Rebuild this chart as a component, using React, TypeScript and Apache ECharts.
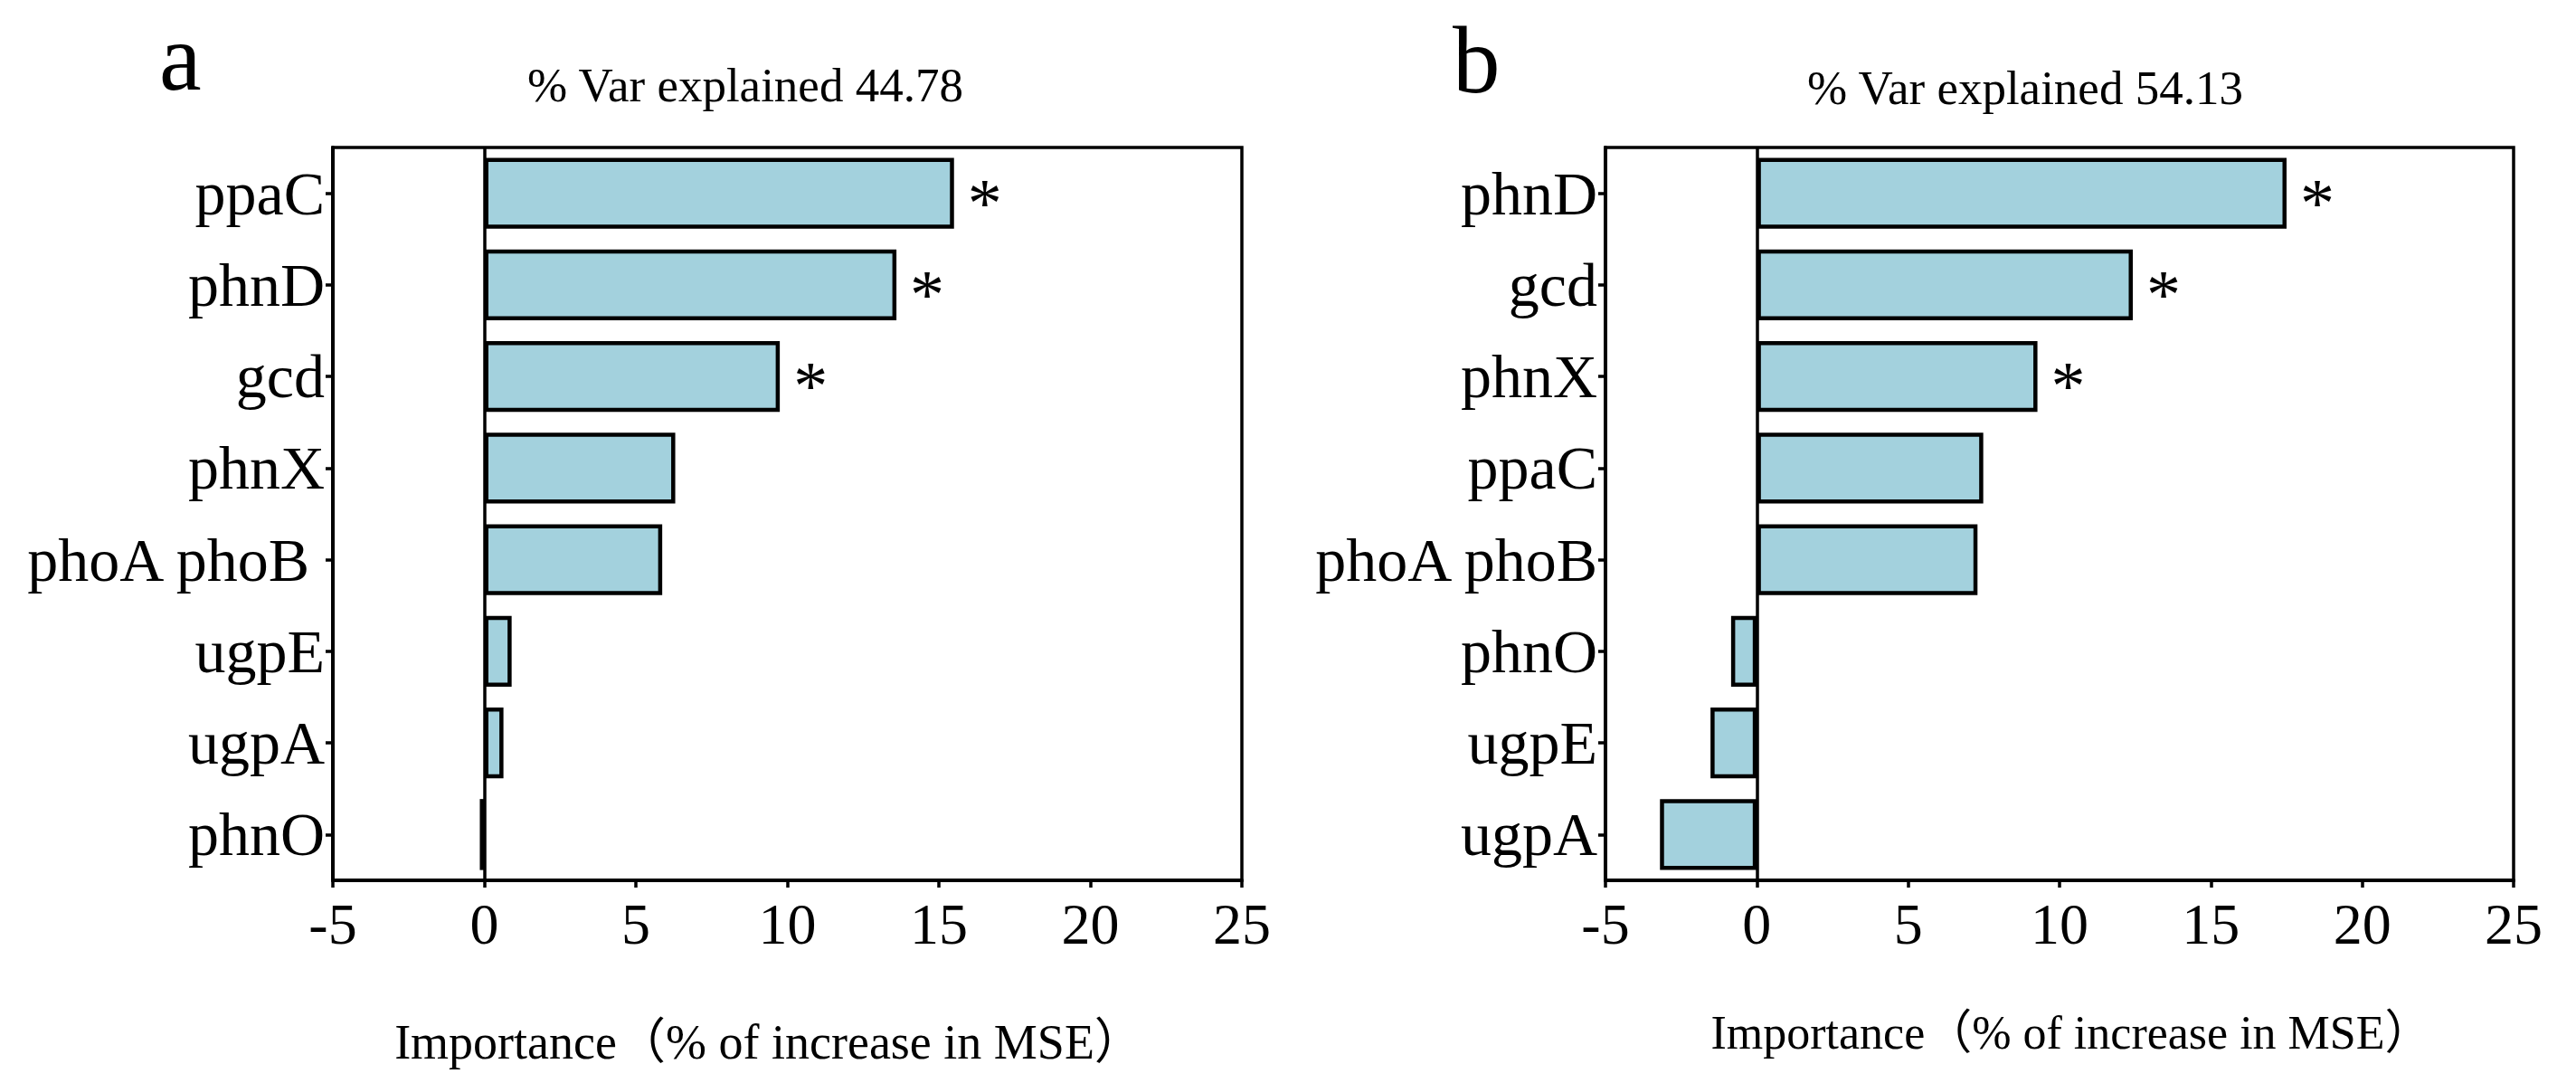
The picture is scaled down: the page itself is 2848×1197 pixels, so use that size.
import React, { useEffect, useRef } from 'react';
import * as echarts from 'echarts';

// Panel a
const categoriesA = ['ppaC', 'phnD', 'gcd', 'phnX', 'phoA phoB ', 'ugpE', 'ugpA', 'phnO'];
const valuesA = [15.5, 13.6, 9.75, 6.3, 5.87, 0.9, 0.63, -0.15];
const significantA = [true, true, true, false, false, false, false, false];
const titleA = '% Var explained 44.78';

// Panel b
const categoriesB = ['phnD', 'gcd', 'phnX', 'ppaC', 'phoA phoB', 'phnO', 'ugpE', 'ugpA'];
const valuesB = [17.5, 12.42, 9.27, 7.48, 7.29, -0.85, -1.53, -3.2];
const significantB = [true, true, true, false, false, false, false, false];
const titleB = '% Var explained 54.13';

const xTitle = 'Importance（% of increase in MSE）';
const xMin = -5;
const xMax = 25;
const xStep = 5;

const FONT = '"Liberation Serif", "Times New Roman", "Noto Sans CJK SC", serif';

export default function App() {
  const ref = useRef<HTMLDivElement>(null);

  useEffect(() => {
    if (!ref.current) return;
    const chart = echarts.init(ref.current, null, { renderer: 'svg' });

    const mkX = (gi: number) => ({
      type: 'value',
      gridIndex: gi,
      min: xMin,
      max: xMax,
      interval: xStep,
      axisLine: { show: true, onZero: false, lineStyle: { color: '#000', width: 4 } },
      axisTick: { show: true, length: 8, lineStyle: { color: '#000', width: 3.5 } },
      axisLabel: { fontSize: 64, fontFamily: FONT, color: '#000', margin: 16 },
      splitLine: { show: false },
    });
    const mkY = (gi: number, cats: string[]) => ({
      type: 'category',
      gridIndex: gi,
      data: cats,
      inverse: true,
      axisLine: { show: true, onZero: false, lineStyle: { color: '#000', width: 4 } },
      axisTick: { show: true, alignWithLabel: true, length: 8, lineStyle: { color: '#000', width: 3.5 } },
      axisLabel: { fontSize: 68, fontFamily: FONT, color: '#000', margin: 9 },
      splitLine: { show: false },
    });
    const mkSeries = (gi: number, vals: number[], sig: boolean[]) => ({
      type: 'bar',
      xAxisIndex: gi,
      yAxisIndex: gi,
      data: vals,
      barWidth: '77.5%',
      itemStyle: { color: '#A3D1DD', borderColor: '#000', borderWidth: 4.5 },
      label: {
        show: true,
        position: 'right',
        distance: 15,
        formatter: (p: any) => (sig[p.dataIndex] ? '*' : ''),
        fontSize: 76,
        fontFamily: FONT,
        color: '#000',
        offset: [0, 10],
      },
      markLine: {
        silent: true,
        symbol: ['none', 'none'],
        label: { show: false },
        lineStyle: { color: '#000', width: 3.5, type: 'solid' },
        data: [{ xAxis: 0 }],
      },
    });
    const txt = (text: string, x: number, y: number, size: number, align: string) => ({
      type: 'text',
      x,
      y,
      silent: true,
      style: {
        text,
        fontSize: size,
        fontFamily: FONT,
        fill: '#000',
        align,
        verticalAlign: 'middle',
        textAlign: align,
        textVerticalAlign: 'middle',
      },
    });

    chart.setOption({
      animation: false,
      backgroundColor: '#fff',
      grid: [
        { left: 368, top: 163, width: 1005, height: 810, show: true, borderColor: '#000', borderWidth: 3.5 },
        { left: 1775, top: 163, width: 1004, height: 810, show: true, borderColor: '#000', borderWidth: 3.5 },
      ],
      xAxis: [mkX(0), mkX(1)],
      yAxis: [mkY(0, categoriesA), mkY(1, categoriesB)],
      series: [mkSeries(0, valuesA, significantA), mkSeries(1, valuesB, significantB)],
      graphic: [
        txt('a', 176, 63, 105, 'left'),
        txt('b', 1606, 66, 105, 'left'),
        txt(titleA, 824, 94, 53, 'center'),
        txt(titleB, 2239, 97, 53, 'center'),
        txt(xTitle, 850, 1152, 54, 'center'),
        txt(xTitle, 2290, 1141, 52, 'center'),
      ],
    });

    return () => chart.dispose();
  }, []);

  return (
    <div
      ref={ref}
      style={{ position: 'fixed', left: 0, top: 0, width: 2848, height: 1197, background: '#fff' }}
    />
  );
}
